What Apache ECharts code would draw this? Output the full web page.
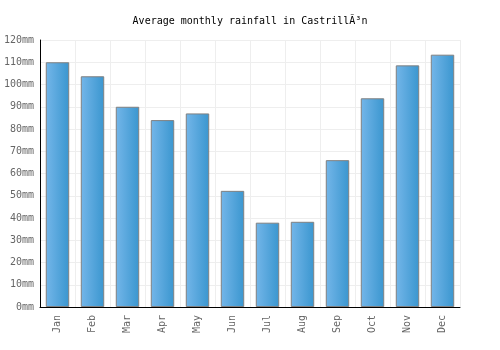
<!DOCTYPE html>
<html>
<head>
<meta charset="utf-8">
<script src="https://cdn.jsdelivr.net/npm/echarts@6/dist/echarts.min.js"></script>
<style>
  html, body { margin: 0; padding: 0; background: #fff; }
  #chart { width: 500px; height: 350px; }
</style>
</head>
<body>
<div id="chart"></div>
<script>
// months and rainfall
var months = ['Jan', 'Feb', 'Mar', 'Apr', 'May', 'Jun', 'Jul', 'Aug', 'Sep', 'Oct', 'Nov', 'Dec'];
var rainfall = [110, 103.7, 90, 84, 87, 52.2, 37.9, 38.3, 66, 93.8, 108.6, 113.4];
var yTicks = [0, 10, 20, 30, 40, 50, 60, 70, 80, 90, 100, 110, 120];

var chart = echarts.init(document.getElementById('chart'));
var font = 'DejaVu Sans Mono';

chart.setOption({
  animation: false,
  title: {
    text: 'Average monthly rainfall in CastrillÃ³n',
    left: 'center',
    top: 11,
    textStyle: { fontFamily: font, fontSize: 10, fontWeight: 'normal', color: '#000' }
  },
  grid: { left: 40, right: 40, top: 40, bottom: 43 },
  xAxis: {
    type: 'category',
    data: months,
    axisLine: { lineStyle: { color: '#000', width: 1 } },
    axisTick: { show: false },
    axisLabel: { rotate: 90, color: '#666', fontFamily: font, fontSize: 10, margin: 8 },
    splitLine: { show: true, lineStyle: { color: '#eee' } }
  },
  yAxis: {
    type: 'value',
    min: yTicks[0],
    max: yTicks[yTicks.length - 1],
    interval: 10,
    axisLine: { show: true, lineStyle: { color: '#000', width: 1 } },
    axisTick: { show: false },
    axisLabel: { color: '#666', fontFamily: font, fontSize: 10, margin: 6, formatter: '{value}mm' },
    splitLine: { lineStyle: { color: '#eee' } }
  },
  series: [{
    type: 'bar',
    data: rainfall,
    barWidth: '67%',
    itemStyle: {
      color: new echarts.graphic.LinearGradient(0, 0, 1, 0, [
        { offset: 0, color: '#74b6e9' },
        { offset: 1, color: '#3a96cf' }
      ]),
      borderColor: '#808080',
      borderWidth: 1
    }
  }]
});
</script>
</body>
</html>
